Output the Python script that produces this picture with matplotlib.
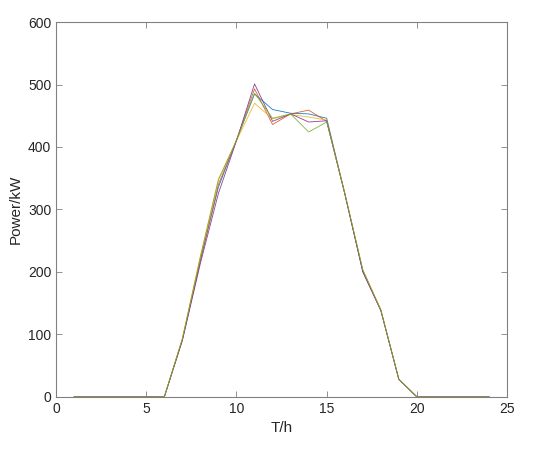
import matplotlib.pyplot as plt

plt.rcParams['font.family'] = ['Liberation Sans', 'DejaVu Sans']

hours = list(range(1, 25))

# MATLAB default colour order, one list per curve
p_blue = [0, 0, 0, 0, 0, 0, 92, 220, 336, 411, 485, 460, 454, 453, 446,
          326, 201, 139, 28, 0, 0, 0, 0, 0]
p_orange = [0, 0, 0, 0, 0, 0, 92, 218, 340, 411, 493, 436, 453, 459, 441,
            326, 202, 139, 28, 0, 0, 0, 0, 0]
p_yellow = [0, 0, 0, 0, 0, 0, 94, 226, 349, 410, 470, 445, 452, 448, 443,
            327, 203, 140, 28, 0, 0, 0, 0, 0]
p_purple = [0, 0, 0, 0, 0, 0, 90, 214, 326, 410, 501, 441, 453, 440, 442,
            325, 200, 138, 28, 0, 0, 0, 0, 0]
p_green = [0, 0, 0, 0, 0, 0, 93, 224, 347, 411, 486, 446, 453, 424, 440,
           326, 204, 139, 28, 0, 0, 0, 0, 0]

series = [p_blue, p_orange, p_yellow, p_purple, p_green]
colors = ['#0072BD', '#D95319', '#EDB120', '#7E2F8E', '#77AC30']

fig = plt.figure(figsize=(5.5, 4.5), dpi=100)
ax = fig.add_axes([0.102, 0.118, 0.82, 0.833])

for vals, c in zip(series, colors):
    ax.plot(hours, vals, color=c, linewidth=0.6, alpha=0.9)

ax.set_xlim(0, 25)
ax.set_ylim(0, 600)
ax.set_xticks(range(0, 26, 5))
ax.set_yticks(range(0, 601, 100))
ax.tick_params(direction='in', top=True, right=True, labelsize=10,
               color='#808080', labelcolor='#262626', length=4, width=0.6)
for s in ax.spines.values():
    s.set_color('#808080')
    s.set_linewidth(0.8)

ax.set_xlabel('T/h', fontsize=11, color='#262626')
ax.set_ylabel('Power/kW', fontsize=11, color='#262626')

fig.savefig('out.png', dpi=100)
